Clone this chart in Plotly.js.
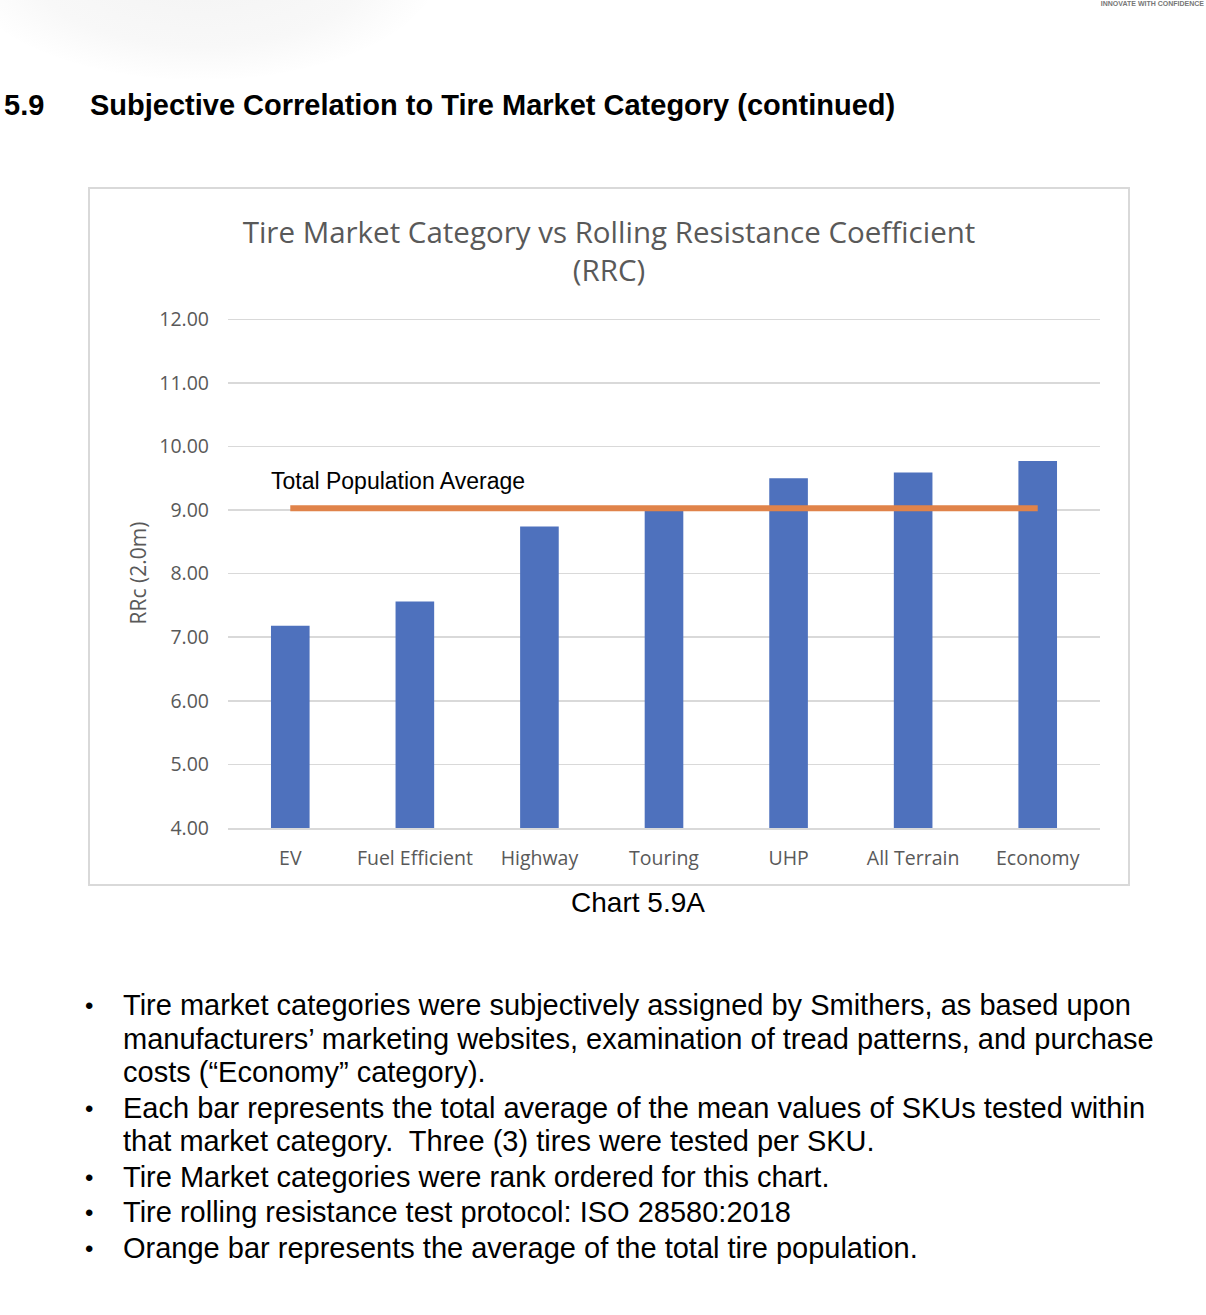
<!DOCTYPE html>
<html>
<head>
<meta charset="utf-8">
<script src="https://cdn.plot.ly/plotly-3.0.1.min.js"></script>
<style>
  html, body { margin: 0; padding: 0; background: #fff; }
  body { width: 1206px; height: 1315px; position: relative; overflow: hidden;
         font-family: "Liberation Sans", Arial, sans-serif; color: #000; }
  .blob { position: absolute; left: -40px; top: -150px; width: 480px; height: 230px;
          border-radius: 50%; background: radial-gradient(ellipse at center, #f3f3f3 0%, #f8f8f8 50%, #fff 72%); }
  .brand { position: absolute; right: 2px; top: 0px; font-size: 7px; font-weight: bold;
           color: #777; white-space: nowrap; }
  .heading { position: absolute; top: 89px; font-size: 29px; font-weight: bold; white-space: nowrap; }
  .chartbox { position: absolute; left: 88px; top: 187px; width: 1038px; height: 695px;
              border: 2px solid #d9d9d9; }
  #chart { width: 1038px; height: 695px; }
  .caption { position: absolute; left: 0; width: 1276px; top: 887px; text-align: center; font-size: 28px; }
  ul.notes { position: absolute; left: 0; top: 989px; margin: 0; padding: 0 0 0 123px; list-style: none;
             font-size: 29px; line-height: 33.5px; }
  ul.notes li { position: relative; white-space: nowrap; margin-bottom: 2px; }
  ul.notes li::before { content: "\2022"; position: absolute; left: -38px; font-size: 24px; }
</style>
</head>
<body>
<div class="blob"></div>
<div class="brand">INNOVATE WITH CONFIDENCE</div>
<div class="heading" style="left:4px">5.9</div>
<div class="heading" style="left:90px">Subjective Correlation to Tire Market Category (continued)</div>

<div class="chartbox"><div id="chart"></div></div>
<div class="caption">Chart 5.9A</div>

<ul class="notes">
  <li>Tire market categories were subjectively assigned by Smithers, as based upon<br>manufacturers’ marketing websites, examination of tread patterns, and purchase<br>costs (“Economy” category).</li>
  <li>Each bar represents the total average of the mean values of SKUs tested within<br>that market category.&nbsp; Three (3) tires were tested per SKU.</li>
  <li>Tire Market categories were rank ordered for this chart.</li>
  <li>Tire rolling resistance test protocol: ISO 28580:2018</li>
  <li>Orange bar represents the average of the total tire population.</li>
</ul>

<script>
const categories = ['EV', 'Fuel Efficient', 'Highway', 'Touring', 'UHP', 'All Terrain', 'Economy'];
const rrcValues = [7.18, 7.56, 8.74, 9.02, 9.50, 9.59, 9.77];
const populationAverage = [9.03, 9.03, 9.03, 9.03, 9.03, 9.03, 9.03];
const yTickValues = [4, 5, 6, 7, 8, 9, 10, 11, 12];
const yTickLabels = ['4.00', '5.00', '6.00', '7.00', '8.00', '9.00', '10.00', '11.00', '12.00'];

const labelFont = {family: 'Open Sans, Noto Sans, sans-serif', size: 19.5, color: '#595959'};

const traces = [
  {
    type: 'bar', x: categories, y: rrcValues, base: 0,
    marker: {color: '#4E71BD'}, hoverinfo: 'x+y'
  },
  {
    type: 'scatter', mode: 'lines', x: categories, y: populationAverage,
    line: {color: '#E0834A', width: 6}, hoverinfo: 'y'
  }
];

const layout = {
  width: 1038, height: 695,
  margin: {l: 138, r: 28, t: 129, b: 56},
  paper_bgcolor: '#fff', plot_bgcolor: '#fff',
  showlegend: false,
  bargap: 0.69,
  title: {
    text: 'Tire Market Category vs Rolling Resistance Coefficient<br>(RRC)',
    font: {family: 'Open Sans, Noto Sans, sans-serif', size: 29.5, color: '#595959'},
    x: 0.5, xanchor: 'center', y: 0.923, yanchor: 'top'
  },
  xaxis: {
    type: 'category', tickfont: labelFont, showgrid: false,
    showline: true, linecolor: '#d9d9d9', linewidth: 1.5,
    ticks: '', ticklabelstandoff: 12, fixedrange: true
  },
  yaxis: {
    range: [4, 12.02], tickvals: yTickValues, ticktext: yTickLabels,
    tickfont: labelFont, gridcolor: '#d9d9d9', gridwidth: 1.5,
    zeroline: false, showline: false, ticks: '', ticklabelstandoff: 18,
    title: {text: 'RRc (2.0m)', font: {family: 'Open Sans, Noto Sans, sans-serif', size: 21, color: '#595959'}, standoff: 6},
    fixedrange: true
  },
  annotations: [{
    text: 'Total Population Average', xref: 'x', yref: 'y', x: -0.17, y: 9.46,
    xanchor: 'left', yanchor: 'middle', showarrow: false,
    font: {family: 'Liberation Sans, Arial, sans-serif', size: 23, color: '#000'}
  }]
};

Plotly.newPlot('chart', traces, layout, {displayModeBar: false, staticPlot: true});
</script>
</body>
</html>
